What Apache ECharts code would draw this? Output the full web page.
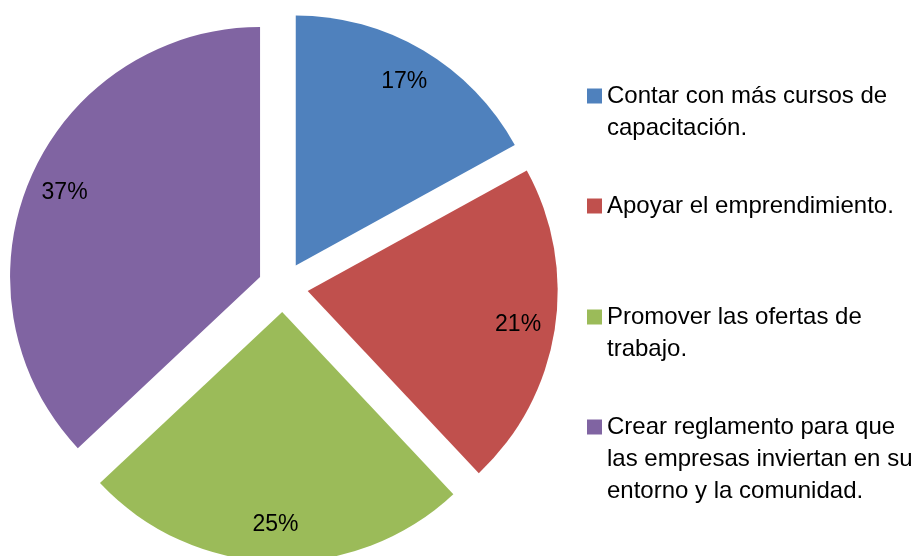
<!DOCTYPE html>
<html>
<head>
<meta charset="utf-8">
<script src="https://cdn.jsdelivr.net/npm/echarts@6/dist/echarts.min.js"></script>
<style>
  html, body { margin: 0; padding: 0; background: #fff; }
  #chart { width: 918px; height: 556px; }
</style>
</head>
<body>
<div id="chart"></div>
<script>
const categories = [
  'Contar con más cursos de\ncapacitación.',
  'Apoyar el emprendimiento.',
  'Promover las ofertas de\ntrabajo.',
  'Crear reglamento para que\nlas empresas inviertan en su\nentorno y la comunidad.'
];
const values = [17, 21, 25, 37];
const colors = ['#4F81BD', '#C0504D', '#9BBB59', '#8064A2'];

const FONT = "'Liberation Sans', Arial, sans-serif";
const LINE_H = 32;
// centre vertical de cada icono de la leyenda
const legendIconY = [96, 206, 317, 427];

const chart = echarts.init(document.getElementById('chart'));

const pieData = values.map((v, i) => ({
  name: categories[i],
  value: v,
  selected: true,
  itemStyle: { color: colors[i] }
}));

// una leyenda por elemento; líneas vacías delante para alinear el icono con la primera línea
const legends = categories.map((name, i) => {
  const n = name.split('\n').length;
  return {
    orient: 'vertical',
    left: 587,
    top: legendIconY[i] - (2 * n - 1) * LINE_H / 2,
    padding: 0,
    itemWidth: 15,
    itemHeight: 15,
    icon: 'rect',
    selectedMode: false,
    data: [name],
    formatter: (s) => '\n'.repeat(n - 1) + s,
    textStyle: {
      fontFamily: FONT,
      fontSize: 24,
      lineHeight: LINE_H,
      color: '#000'
    }
  };
});

const option = {
  animation: false,
  legend: legends,
  series: [
    {
      type: 'pie',
      center: [283, 287],
      radius: [0, 250],
      startAngle: 90,
      clockwise: true,
      selectedMode: 'multiple',
      selectedOffset: 25,
      label: { show: false },
      labelLine: { show: false },
      emphasis: { disabled: true },
      data: pieData
    },
    {
      // serie transparente solo para colocar las etiquetas de porcentaje
      type: 'pie',
      center: [283, 287],
      radius: [170, 250],
      startAngle: 90,
      clockwise: true,
      silent: true,
      selectedMode: 'multiple',
      selectedOffset: 25,
      itemStyle: { color: 'rgba(0,0,0,0)' },
      emphasis: { disabled: true },
      label: {
        show: true,
        position: 'inside',
        rotate: 0,
        formatter: '{c}%',
        color: '#000',
        fontFamily: FONT,
        fontSize: 23
      },
      labelLine: { show: false },
      data: values.map((v, i) => ({ name: categories[i], value: v, selected: true }))
    }
  ]
};

chart.setOption(option);
window.addEventListener('resize', () => {
  chart.resize();
});
</script>
</body>
</html>
